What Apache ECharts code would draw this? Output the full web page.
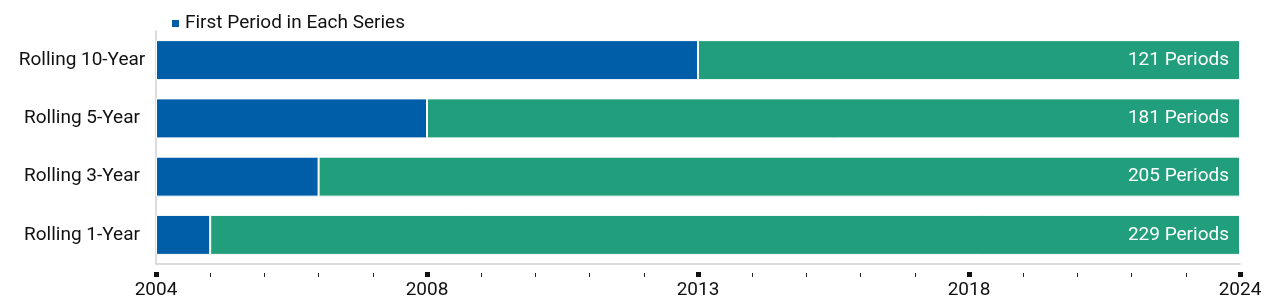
<!DOCTYPE html>
<html>
<head>
<meta charset="utf-8">
<script src="https://cdn.jsdelivr.net/npm/echarts@6/dist/echarts.min.js"></script>
<style>
html,body{margin:0;padding:0;background:#fff;}
#chart{width:1280px;height:307px;}
</style>
</head>
<body>
<div id="chart"></div>
<script>
const categories = ['Rolling 10-Year', 'Rolling 5-Year', 'Rolling 3-Year', 'Rolling 1-Year'];
const firstPeriodMonths = [120, 60, 36, 12];
const remainingMonths = [120, 180, 204, 228];
const periodCounts = [121, 181, 205, 229];
const tickValues = [0, 60, 120, 180, 240];
const tickLabels = ['2004', '2008', '2013', '2018', '2024'];

const FONT = 'Roboto';
const BLUE = '#005EA8';
const GREEN = '#219E7C';

function labelFor(v) {
  const i = tickValues.indexOf(v);
  return i >= 0 ? tickLabels[i] : '';
}

const chart = echarts.init(document.getElementById('chart'), null, {renderer: 'canvas'});
chart.setOption({
  animation: false,
  textStyle: {fontFamily: FONT},
  legend: {
    data: ['First Period in Each Series'],
    left: 165, top: 9,
    icon: 'rect', itemWidth: 9, itemHeight: 9, itemGap: 6,
    textStyle: {fontFamily: FONT, fontSize: 19, color: '#111'}
  },
  grid: {left: 156, right: 40, top: 31, bottom: 43, containLabel: false},
  xAxis: [
    {
      type: 'value', position: 'bottom', min: 0, max: 240, interval: 12,
      axisLine: {show: true, lineStyle: {color: '#d0d0d0', width: 1.5}},
      axisTick: {show: false}, axisLabel: {show: false}, splitLine: {show: false}
    },
    {
      type: 'value', position: 'bottom', offset: 9, min: 0, max: 240, interval: 12,
      axisLine: {show: false},
      axisTick: {show: true, length: 4, lineStyle: {color: '#222', width: 1}},
      axisLabel: {show: false}, splitLine: {show: false}
    },
    {
      type: 'value', position: 'bottom', offset: 8, min: 0, max: 240, interval: 60,
      axisLine: {show: false},
      axisTick: {show: true, length: 5, lineStyle: {color: '#111', width: 5}},
      axisLabel: {show: true, margin: 9, fontFamily: FONT, fontSize: 19, color: '#111',
        formatter: v => labelFor(v)},
      splitLine: {show: false}
    }
  ],
  yAxis: {
    type: 'category', data: categories, inverse: true,
    axisLine: {show: true, lineStyle: {color: '#d0d0d0', width: 1.5}},
    axisTick: {show: false},
    axisLabel: {fontFamily: FONT, fontSize: 19, color: '#111', margin: 74, align: 'center',
      padding: [3, 0, 0, 0]}
  },
  series: [
    {
      name: 'First Period in Each Series', type: 'bar', stack: 'total',
      xAxisIndex: 0, data: firstPeriodMonths, barWidth: 40,
      itemStyle: {color: BLUE, borderColor: '#fff', borderWidth: 1}
    },
    {
      name: 'Remaining Periods', type: 'bar', stack: 'total',
      xAxisIndex: 0, data: remainingMonths, barWidth: 40,
      itemStyle: {color: GREEN, borderColor: '#fff', borderWidth: 1},
      label: {
        show: true, position: 'insideRight', distance: 11,
        fontFamily: FONT, fontSize: 19, color: '#fff', padding: [3, 0, 0, 0],
        formatter: p => periodCounts[p.dataIndex] + ' Periods'
      }
    }
  ]
});
</script>
</body>
</html>
